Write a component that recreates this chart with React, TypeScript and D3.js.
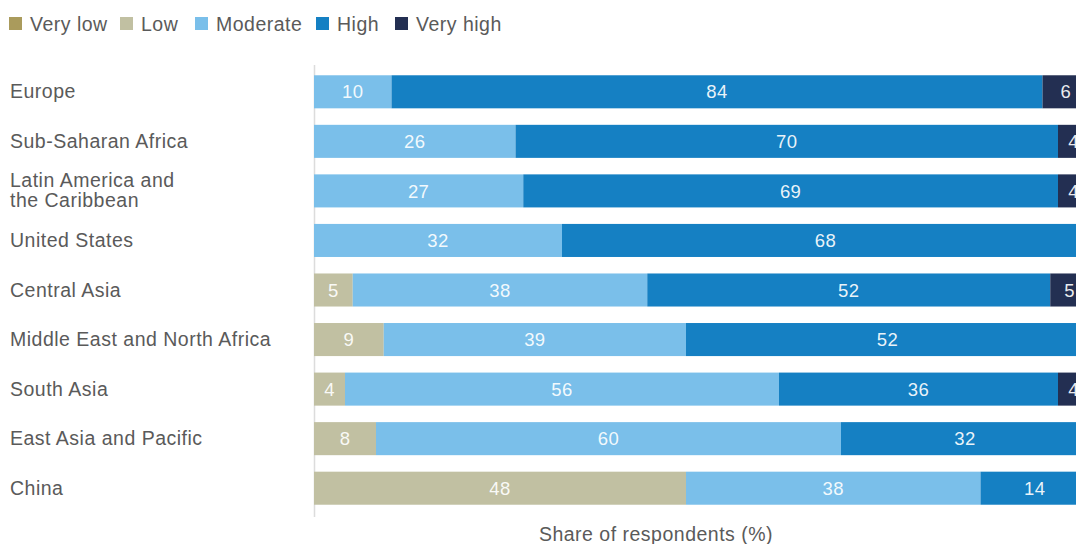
import React from "react";
import * as d3 from "d3";

const categories = [
  "Europe",
  "Sub-Saharan Africa",
  "Latin America and\nthe Caribbean",
  "United States",
  "Central Asia",
  "Middle East and North Africa",
  "South Asia",
  "East Asia and Pacific",
  "China",
];
const seriesNames = ["Very low", "Low", "Moderate", "High", "Very high"];
const veryLow = [0, 0, 0, 0, 0, 0, 0, 0, 0];
const low = [0, 0, 0, 0, 5, 9, 4, 8, 48];
const moderate = [10, 26, 27, 32, 38, 39, 56, 60, 38];
const high = [84, 70, 69, 68, 52, 52, 36, 32, 14];
const veryHigh = [6, 4, 4, 0, 5, 0, 4, 0, 0];
const colors = ["#aa9b5c", "#c1c0a2", "#7abfea", "#1580c3", "#232f52"];
const axisTitle = "Share of respondents (%)";

const W = 1076;
const H = 544;
const FONT = "'Liberation Sans', Arial, sans-serif";
const TEXT = "#5a5a5a";

export default function App() {
  const series = [veryLow, low, moderate, high, veryHigh];
  const x = d3.scaleLinear().domain([0, 100]).range([314, 1089]);
  const y = d3
    .scaleBand<string>()
    .domain(categories)
    .range([67, 513])
    .paddingInner(0.333)
    .paddingOuter(0.167);

  const rows = categories.map((c, i) => {
    let acc = 0;
    return series.map((s, k) => {
      const v = s[i];
      const seg = { k, v, x0: acc, x1: acc + v };
      acc += v;
      return seg;
    });
  });

  const legendX = [9, 120, 195, 316, 395];

  return (
    <div style={{ position: "fixed", left: 0, top: 0, width: W, height: H, overflow: "hidden", background: "#fff" }}>
      <svg width={W} height={H} style={{ display: "block" }} fontFamily={FONT}>
        {/* legend */}
        {seriesNames.map((n, k) => (
          <g key={n} transform={`translate(${legendX[k]},0)`}>
            <rect x={0} y={17} width={13} height={13} fill={colors[k]} />
            <text x={21} y={31} fontSize={19.5} letterSpacing={0.5} fill={TEXT}>
              {n}
            </text>
          </g>
        ))}
        {/* axis line */}
        <line x1={314.5} x2={314.5} y1={65} y2={517} stroke="#dcdcdc" strokeWidth={1.5} />
        {/* bars */}
        {rows.map((segs, i) => {
          const c = categories[i];
          const by = y(c)!;
          const bh = y.bandwidth();
          return (
            <g key={c}>
              {segs
                .filter((s) => s.v > 0)
                .map((s) => (
                  <g key={s.k}>
                    <rect x={x(s.x0)} y={by} width={x(s.x1) - x(s.x0)} height={bh} fill={colors[s.k]} />
                    <text
                      x={(x(s.x0) + x(s.x1)) / 2}
                      y={by + bh / 2}
                      dy="0.36em"
                      textAnchor="middle"
                      fontSize={18.5}
                      letterSpacing={0.4}
                      fill="#ffffff"
                      fillOpacity={0.92}
                    >
                      {s.v}
                    </text>
                  </g>
                ))}
              {(() => {
                const lines = c.split("\n");
                const cy = by + bh / 2;
                const lh = 20;
                const start = cy - ((lines.length - 1) * lh) / 2 - 0.5;
                return (
                  <text x={10} fontSize={19.5} letterSpacing={0.5} fill={TEXT}>
                    {lines.map((l, j) => (
                      <tspan key={j} x={10} y={start + j * lh} dy="0.36em">
                        {l}
                      </tspan>
                    ))}
                  </text>
                );
              })()}
            </g>
          );
        })}
        <text x={656} y={541} textAnchor="middle" fontSize={19.5} letterSpacing={0.5} fill={TEXT}>
          {axisTitle}
        </text>
      </svg>
    </div>
  );
}
